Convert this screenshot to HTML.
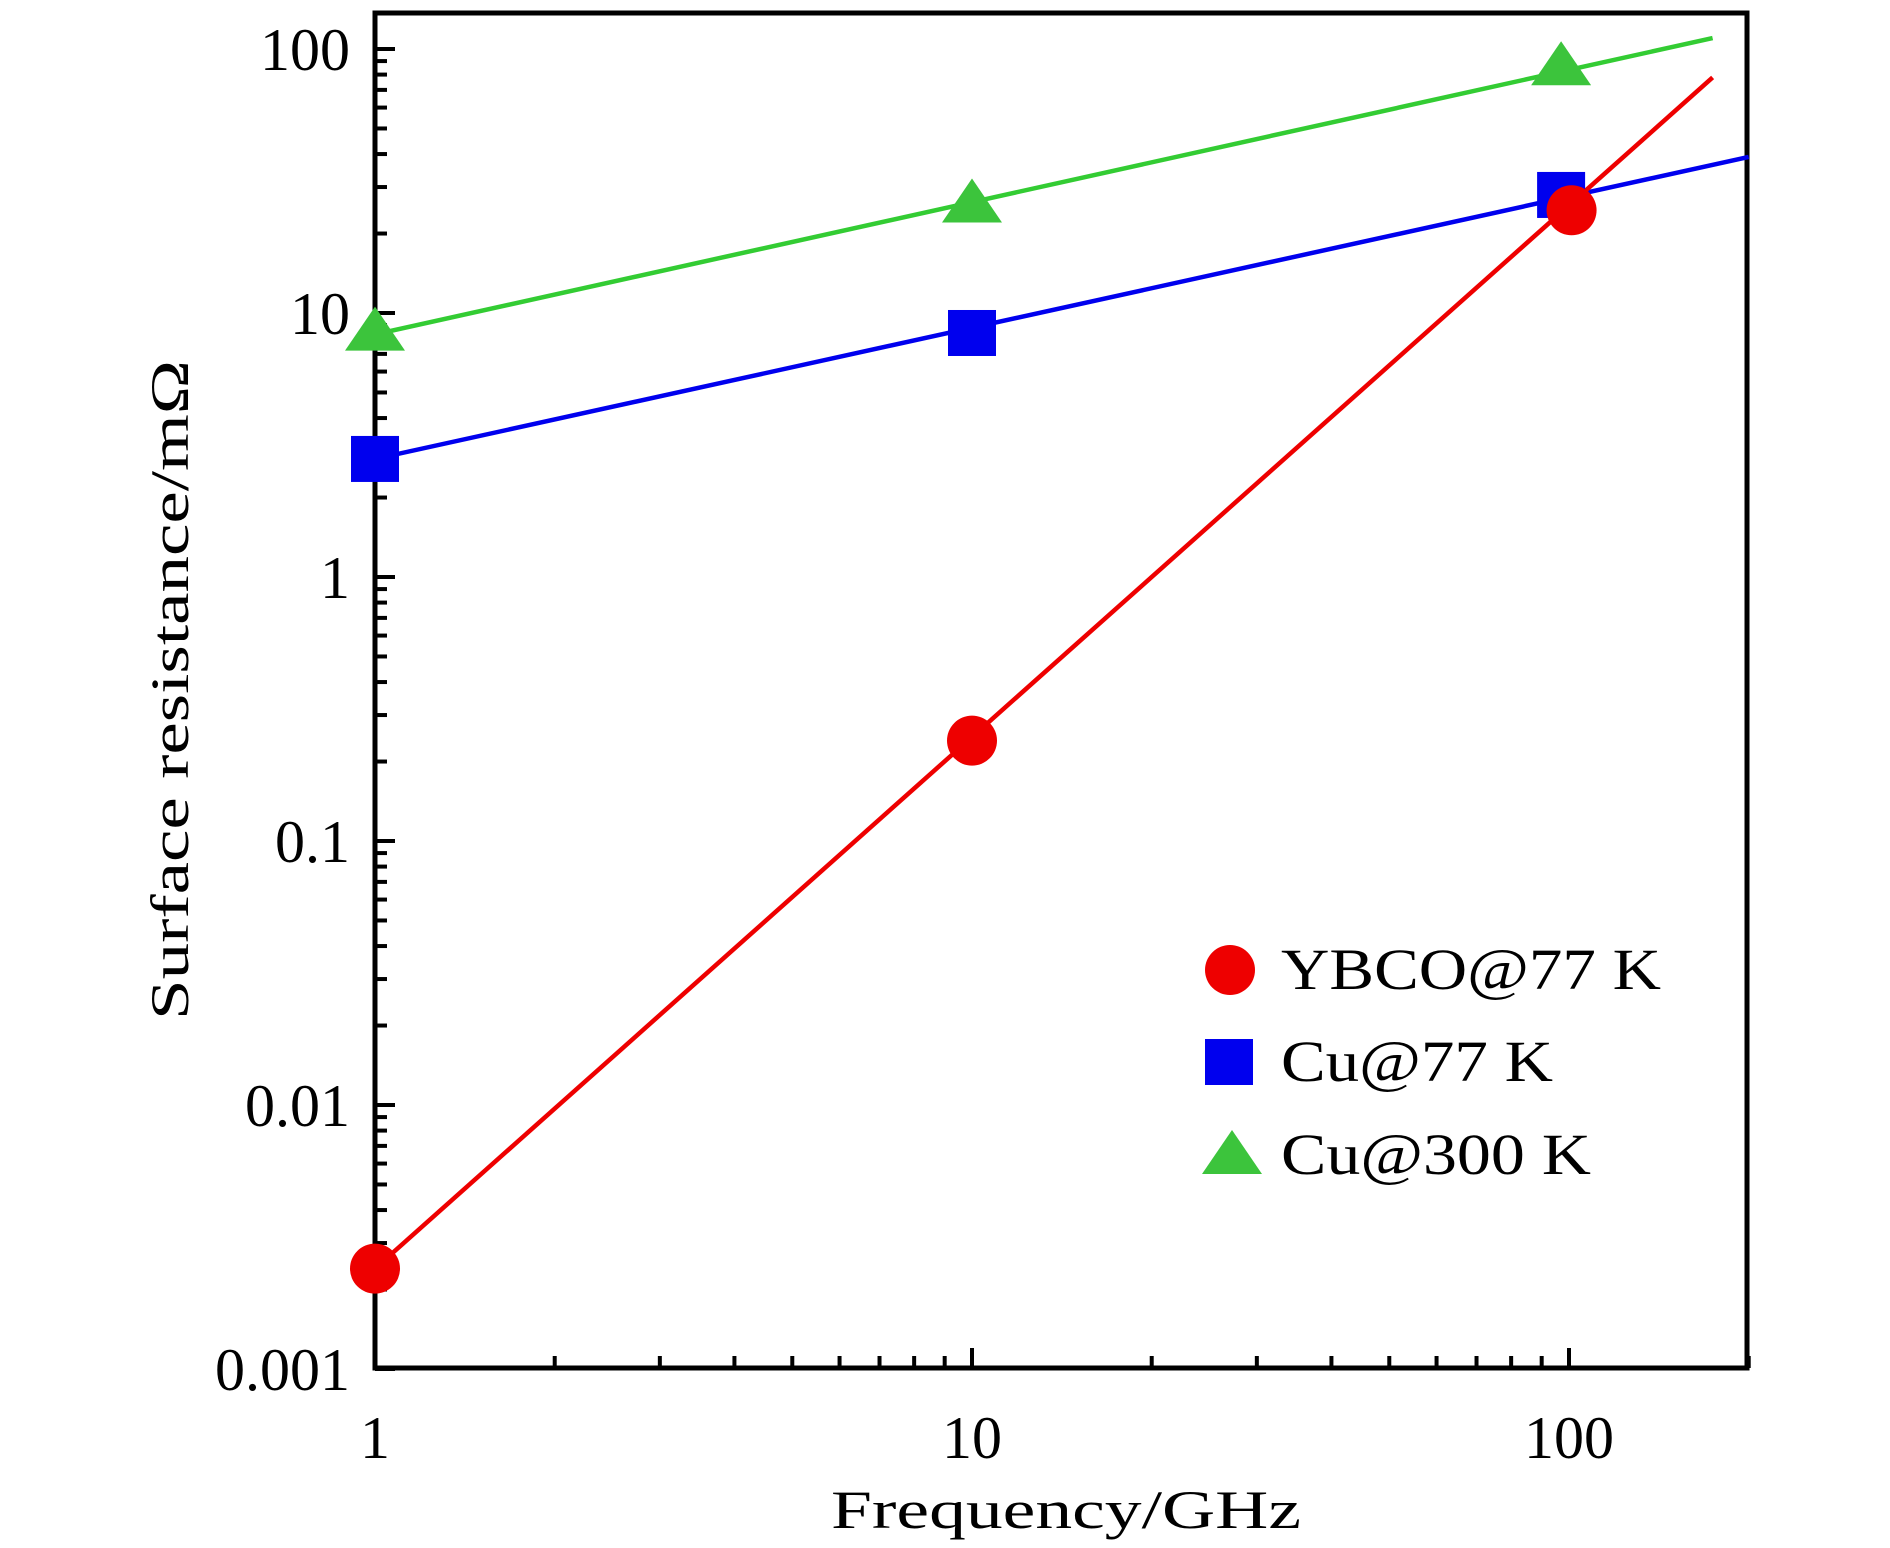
<!DOCTYPE html>
<html><head><meta charset="utf-8"><style>
html,body{margin:0;padding:0;background:#fff;}
svg{display:block;font-family:"Liberation Serif",serif;}
</style></head><body>
<svg id="chart" width="1890" height="1548" viewBox="0 0 1890 1548" xmlns="http://www.w3.org/2000/svg">
<g id="plot"></g>
</svg>
<script>
const xTickValues = [1, 10, 100];
const xTickLabels = ["1", "10", "100"];
const yTickValues = [0.001, 0.01, 0.1, 1, 10, 100];
const yTickLabels = ["0.001", "0.01", "0.1", "1", "10", "100"];
const seriesNames = ["YBCO@77 K", "Cu@77 K", "Cu@300 K"];
const ybcoX = [1, 10, 101];
const ybcoY = [0.0024, 0.24, 24.5];
const cu77X = [1, 10, 97];
const cu77Y = [2.8, 8.4, 28];
const cu300X = [1, 10, 97];
const cu300Y = [8.5, 26, 86];
const ybcoFitX = [1, 174];
const ybcoFitY = [0.0024, 78];
const cu77FitX = [1, 200];
const cu77FitY = [2.8, 39];
const cu300FitX = [1, 174];
const cu300FitY = [8.3, 110];

const L = 375, R = 1747, T = 13, B = 1368;
const xMin = 1, xMax = 200, yMin = 0.001, yMax = 160;
const xDec = 597, yDec = 264, y100 = 49;
const NS = "http://www.w3.org/2000/svg";
const g = document.getElementById('plot');
function xs(v){ return L + Math.log10(v/xMin)*xDec; }
function ys(v){ return y100 - (Math.log10(v) - 2)*yDec; }
function mk(tag, attrs, parent){
  const e = document.createElementNS(NS, tag);
  for (const k in attrs) e.setAttribute(k, attrs[k]);
  (parent||g).appendChild(e);
  return e;
}
const frame = mk('rect', {x:L, y:T, width:R-L, height:B-T, fill:'none', stroke:'#000', 'stroke-width':5});


for (let d = 0; d <= 2; d++) {
  for (let m = 1; m <= 9; m++) {
    const v = Math.pow(10, d) * m;
    if (v > xMax) continue;
    const x = xs(v);
    const len = m === 1 ? 20 : 12;
    const t = mk('line', {x1:x, y1:B, x2:x, y2:B-len, stroke:'#000', 'stroke-width':4});
    
    
  }
}
xTickValues.forEach((v, i) => {
  const t = mk('text', {x:xs(v), y:1458, 'font-size':60, 'text-anchor':'middle', fill:'#000'});
  t.textContent = xTickLabels[i];
  
  
});
for (let d = -3; d <= 2; d++) {
  for (let m = 1; m <= 9; m++) {
    const v = Math.pow(10, d) * m;
    if (v < yMin || v > yMax) continue;
    const y = ys(v);
    const len = m === 1 ? 20 : 12;
    const t = mk('line', {x1:L, y1:y, x2:L+len, y2:y, stroke:'#000', 'stroke-width':4});
    
    
  }
}
yTickValues.forEach((v, i) => {
  const t = mk('text', {x:350, y:ys(v)+21, 'font-size':60, 'text-anchor':'end', fill:'#000'});
  t.textContent = yTickLabels[i];
  
  
});
const xt = mk('text', {x:1066, y:1528, 'font-size':54, 'text-anchor':'middle', fill:'#000', textLength:470, lengthAdjust:'spacingAndGlyphs'});
xt.textContent = 'Frequency/GHz';


const yt = mk('text', {x:0, y:0, 'font-size':54, 'text-anchor':'middle', fill:'#000', transform:'translate(188,690) rotate(-90)', textLength:660, lengthAdjust:'spacingAndGlyphs'});
yt.textContent = 'Surface resistance/mΩ';



function fit(fx, fy, color, name){
  const l = mk('line', {x1:xs(fx[0]), y1:ys(fy[0]), x2:xs(fx[1]), y2:ys(fy[1]), stroke:color, 'stroke-width':4.5});
  
  
}
fit(cu300FitX, cu300FitY, '#33cc33', 'cu300-fit-line');
fit(cu77FitX, cu77FitY, '#0000ee', 'cu77-fit-line');
fit(ybcoFitX, ybcoFitY, '#ee0000', 'ybco-fit-line');

function circle(x, y, name){
  const c = mk('circle', {cx:x, cy:y, r:25, fill:'#ee0000'});
  
  
}
function square(x, y, name){
  const c = mk('rect', {x:x-24, y:y-23, width:48, height:46, fill:'#0000ee'});
  
  
}
function tri(x, y, name){
  const c = mk('polygon', {points:`${x},${y-25} ${x+30},${y+19} ${x-30},${y+19}`, fill:'#3cc43c'});
  
  
}
cu300X.forEach((v, i) => tri(xs(v), ys(cu300Y[i]), 'cu300-point'));
cu77X.forEach((v, i) => square(xs(v), ys(cu77Y[i]), 'cu77-point'));
ybcoX.forEach((v, i) => circle(xs(v), ys(ybcoY[i]), 'ybco-point'));

const legendY = [970, 1062, 1155];
circle(1230, legendY[0], 'legend-marker-ybco');
square(1229, legendY[1], 'legend-marker-cu77');
tri(1232, legendY[2], 'legend-marker-cu300');
const widths = [380, 272, 310];
seriesNames.forEach((n, i) => {
  const t = mk('text', {x:1281, y:legendY[i]+19, 'font-size':58, fill:'#000', textLength:widths[i], lengthAdjust:'spacingAndGlyphs'});
  t.textContent = n;
  
  
});
</script>
</body></html>
